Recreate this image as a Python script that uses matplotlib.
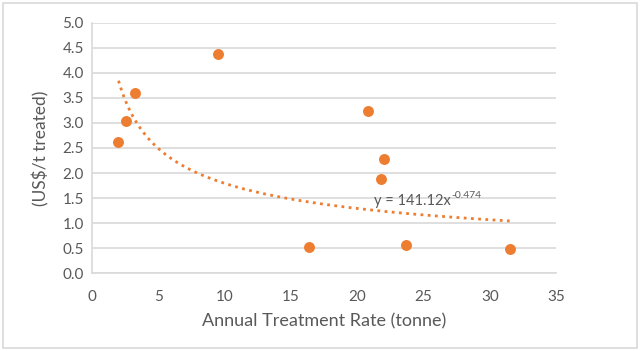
import numpy as np
import matplotlib
matplotlib.use("Agg")
import matplotlib.pyplot as plt
from matplotlib.patches import Rectangle

plt.rcParams['font.family'] = ['Lato', 'DejaVu Sans']

# データ (読み取り値)
rate_tonne = [1.96, 2.56, 3.24, 9.5, 20.8, 22.0, 21.8, 16.4, 23.7, 31.5]
cost_usd_t = [2.62, 3.04, 3.60, 4.38, 3.24, 2.28, 1.88, 0.52, 0.56, 0.48]

# 近似曲線 (Excel の累乗近似, x は kg 単位)
coef_a = 141.12
coef_b = -0.474
trend_x_range = [2.0, 31.5]

x_ticks = [0, 5, 10, 15, 20, 25, 30, 35]
y_ticks = [0.0, 0.5, 1.0, 1.5, 2.0, 2.5, 3.0, 3.5, 4.0, 4.5, 5.0]

orange = '#ED7D31'
grey_text = '#595959'
grid_col = '#D9D9D9'

fig = plt.figure(figsize=(6.4, 3.51), dpi=100)
ax = fig.add_axes([0.1438, 0.2222, 0.725, 0.7123])

# 近似曲線
tx = np.linspace(trend_x_range[0], trend_x_range[1], 200)
ty = coef_a * (tx * 1000) ** coef_b
ax.plot(tx, ty, linestyle=(0, (1, 1.6)), color=orange, linewidth=2, zorder=2)

# 散布図
ax.scatter(rate_tonne, cost_usd_t, s=62, color=orange, zorder=3, linewidths=0)

ax.set_xlim(0, 35)
ax.set_ylim(0, 5)
ax.set_xticks(x_ticks)
ax.set_yticks(y_ticks)
ax.set_yticklabels([f'{v:.1f}' for v in y_ticks])
ax.yaxis.grid(True, color=grid_col, linewidth=1.2)
ax.set_axisbelow(True)
ax.tick_params(length=0, labelsize=11, labelcolor=grey_text, pad=6)
ax.tick_params(axis='x', pad=12)

for s in ['top', 'right']:
    ax.spines[s].set_visible(False)
for s in ['left', 'bottom']:
    ax.spines[s].set_color(grid_col)
    ax.spines[s].set_linewidth(1.2)

ax.set_xlabel('Annual Treatment Rate (tonne)', fontsize=13, color=grey_text, labelpad=7)
ax.set_ylabel('(US$/t treated)', fontsize=12.5, color=grey_text, labelpad=9)

# 近似式ラベル
eq = ax.text(21.3, 1.45, 'y = 141.12x', fontsize=10.5, color=grey_text,
             ha='left', va='center')
ax.annotate('-0.474', xy=(1, 1), xycoords=eq, xytext=(0, -5),
            textcoords='offset points', fontsize=7.5, color=grey_text,
            ha='left', va='bottom')

# 外枠
fig.patches.append(Rectangle((0.005, 0.008), 0.99, 0.984, transform=fig.transFigure,
                             fill=False, edgecolor=grid_col, linewidth=1.2))

fig.savefig('out.png', dpi=100)
